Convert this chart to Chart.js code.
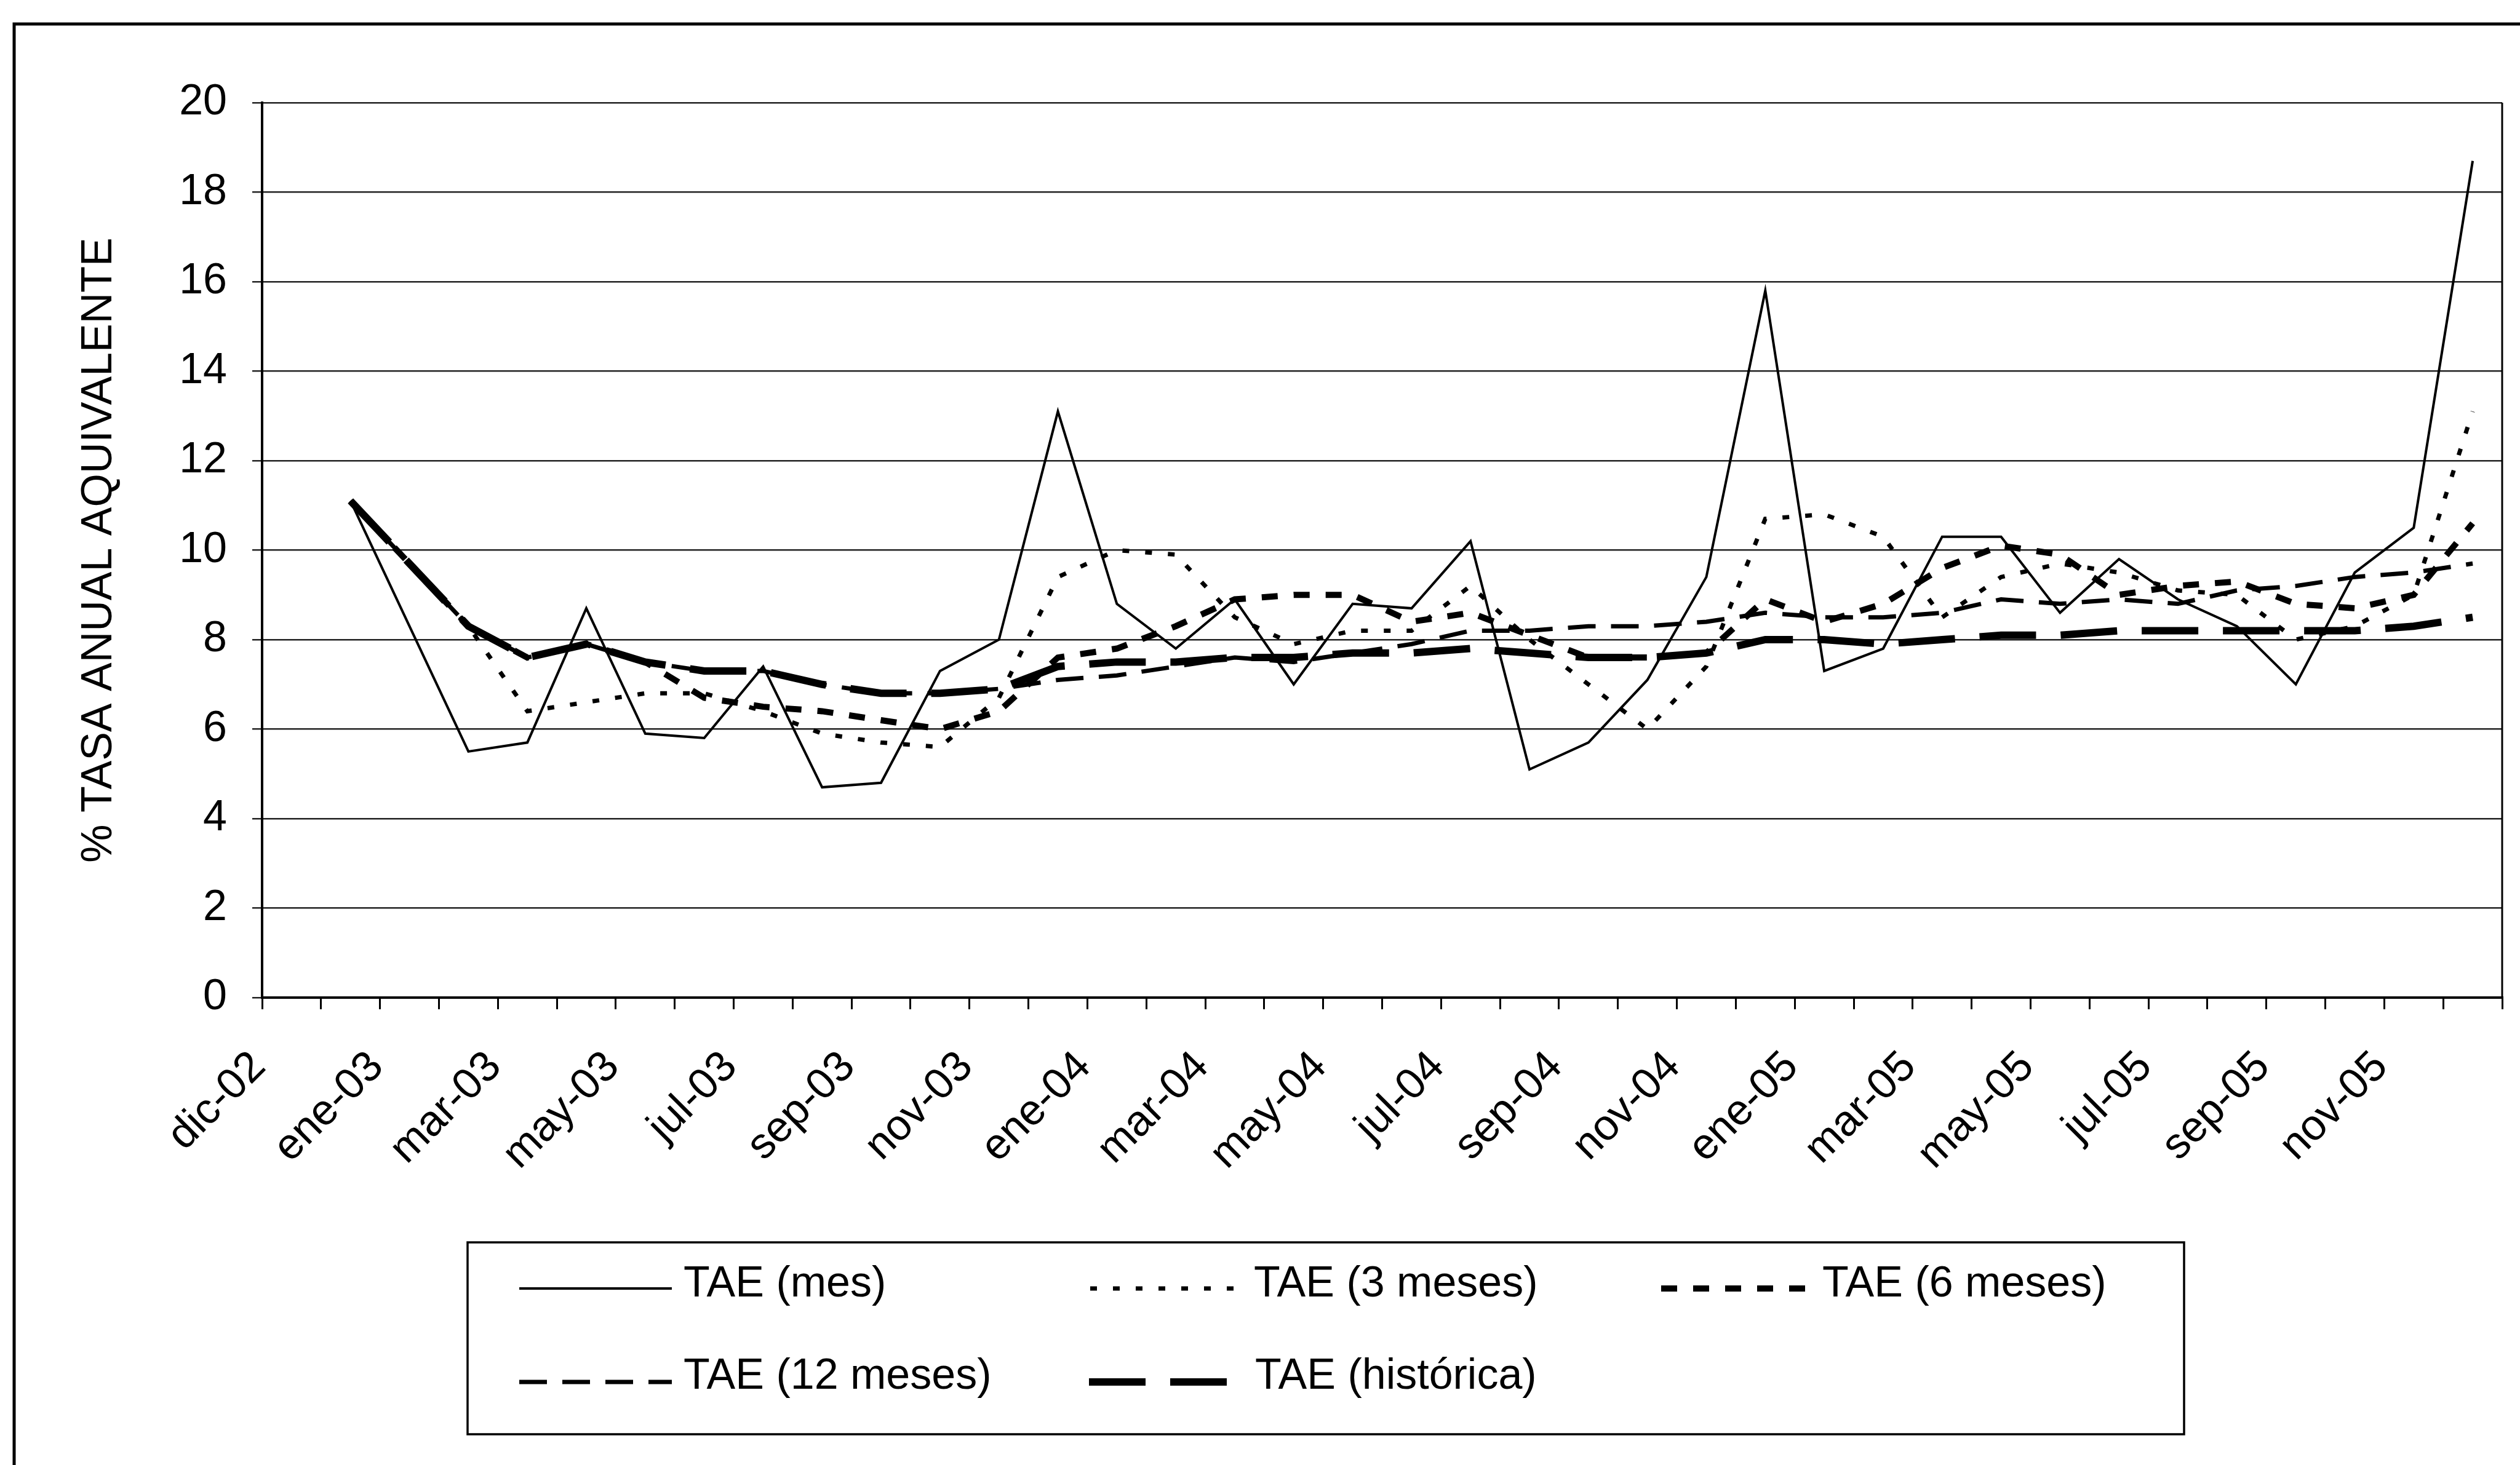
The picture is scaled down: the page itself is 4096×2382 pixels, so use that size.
<!DOCTYPE html>
<html>
<head>
<meta charset="utf-8">
<script src="https://cdn.jsdelivr.net/npm/chart.js@4.4.1/dist/chart.umd.min.js"></script>
<style>
  html, body { margin: 0; padding: 0; background: #ffffff; }
  #wrap { width: 4096px; height: 2382px; }
</style>
</head>
<body>
<div id="wrap"><canvas id="c" width="4096" height="2382"></canvas></div>
<script>
// ---------- data ----------
const categories = ['dic-02','dic-02','ene-03','feb-03','mar-03','abr-03','may-03','jun-03','jul-03','ago-03','sep-03','oct-03','nov-03','dic-03',
  'ene-04','feb-04','mar-04','abr-04','may-04','jun-04','jul-04','ago-04','sep-04','oct-04','nov-04','dic-04',
  'ene-05','feb-05','mar-05','abr-05','may-05','jun-05','jul-05','ago-05','sep-05','oct-05','nov-05','dic-05'];

const taeMes  = [null, 11.1, 8.3, 5.5, 5.7, 8.7, 5.9, 5.8, 7.4, 4.7, 4.8, 7.3, 8.0, 13.1, 8.8, 7.8, 8.9, 7.0, 8.8, 8.7, 10.2, 5.1, 5.7, 7.1, 9.4, 15.8, 7.3, 7.8, 10.3, 10.3, 8.6, 9.8, 8.9, 8.3, 7.0, 9.5, 10.5, 18.7];
const tae3    = [null, 11.1, 9.7, 8.3, 6.4, 6.6, 6.8, 6.8, 6.4, 5.9, 5.7, 5.6, 6.7, 9.4, 10.0, 9.9, 8.5, 7.9, 8.2, 8.2, 9.2, 8.0, 7.0, 6.0, 7.4, 10.7, 10.8, 10.3, 8.5, 9.4, 9.7, 9.5, 9.1, 9.0, 8.0, 8.3, 9.0, 13.1];
const tae6    = [null, 11.1, 9.7, 8.3, 7.6, 7.9, 7.5, 6.7, 6.5, 6.4, 6.2, 6.0, 6.4, 7.6, 7.8, 8.3, 8.9, 9.0, 9.0, 8.4, 8.6, 8.1, 7.6, 7.6, 7.7, 8.9, 8.4, 8.8, 9.6, 10.1, 9.9, 9.0, 9.2, 9.3, 8.8, 8.7, 9.0, 10.6];
const tae12   = [null, 11.1, 9.7, 8.3, 7.6, 7.9, 7.5, 7.3, 7.3, 7.0, 6.8, 6.8, 6.9, 7.1, 7.2, 7.4, 7.6, 7.5, 7.7, 7.9, 8.2, 8.2, 8.3, 8.3, 8.4, 8.6, 8.5, 8.5, 8.6, 8.9, 8.8, 8.9, 8.8, 9.1, 9.2, 9.4, 9.5, 9.7];
const taeHist = [null, 11.1, 9.7, 8.3, 7.6, 7.9, 7.5, 7.3, 7.3, 7.0, 6.8, 6.8, 6.9, 7.4, 7.5, 7.5, 7.6, 7.6, 7.7, 7.7, 7.8, 7.7, 7.6, 7.6, 7.7, 8.0, 8.0, 7.9, 8.0, 8.1, 8.1, 8.2, 8.2, 8.2, 8.2, 8.2, 8.3, 8.5];

const seriesNames = ['TAE (mes)', 'TAE (3 meses)', 'TAE (6 meses)', 'TAE (12 meses)', 'TAE (histórica)'];
const yAxisTitle = '% TASA ANUAL AQUIVALENTE';
const yMin = 0, yMax = 20, yStep = 2;
const labelEvery = 2;   // one category label out of two is shown

// ---------- styling ----------
const FONT = "'Liberation Sans', Arial, Helvetica, sans-serif";
const FS = 70;
Chart.defaults.font.family = FONT;
Chart.defaults.font.size = FS;
Chart.defaults.color = '#000';

const framePlugin = {
  id: 'frame',
  afterDraw(chart) {
    const ctx = chart.ctx;
    const a = chart.chartArea;
    ctx.save();
    ctx.strokeStyle = '#000';
    ctx.setLineDash([]);
    // right border of plot area
    ctx.lineWidth = 3;
    ctx.beginPath();
    ctx.moveTo(a.right, a.top);
    ctx.lineTo(a.right, a.bottom);
    ctx.stroke();
    // outer chart frame (left and top edges visible)
    ctx.lineWidth = 5;
    ctx.beginPath();
    ctx.moveTo(23, 2382);
    ctx.lineTo(23, 39);
    ctx.lineTo(4096, 39);
    ctx.stroke();
    // legend box
    ctx.lineWidth = 3.5;
    ctx.strokeRect(760, 2020, 3550 - 760, 2332 - 2020);
    const cells = [
      { x0: 844,  x1: 1092, tx: 1111, ly: 2095, ty: 2089 },
      { x0: 1772, x1: 2014, tx: 2038, ly: 2095, ty: 2089 },
      { x0: 2700, x1: 2948, tx: 2962, ly: 2095, ty: 2089 },
      { x0: 844,  x1: 1092, tx: 1111, ly: 2247, ty: 2239 },
      { x0: 1770, x1: 2008, tx: 2040, ly: 2247, ty: 2239 }
    ];
    chart.data.datasets.forEach((ds, i) => {
      const c = cells[i];
      ctx.strokeStyle = ds.borderColor;
      ctx.lineWidth = ds.borderWidth;
      ctx.setLineDash(ds.borderDash || []);
      ctx.lineCap = 'butt';
      ctx.beginPath();
      ctx.moveTo(c.x0, c.ly);
      ctx.lineTo(c.x1, c.ly);
      ctx.stroke();
      ctx.setLineDash([]);
      ctx.fillStyle = '#000';
      ctx.font = FS + 'px ' + FONT;
      ctx.textAlign = 'left';
      ctx.textBaseline = 'middle';
      ctx.fillText(ds.label, c.tx, c.ty);
    });
    ctx.restore();
  }
};

const ctx = document.getElementById('c').getContext('2d');
new Chart(ctx, {
  type: 'line',
  data: {
    labels: categories,
    datasets: [
      { label: seriesNames[0], data: taeMes,  borderColor: '#000', borderWidth: 4,  borderDash: [] },
      { label: seriesNames[1], data: tae3,    borderColor: '#000', borderWidth: 7,  borderDash: [11, 26] },
      { label: seriesNames[2], data: tae6,    borderColor: '#000', borderWidth: 10, borderDash: [26, 26] },
      { label: seriesNames[3], data: tae12,   borderColor: '#000', borderWidth: 7,  borderDash: [45, 25] },
      { label: seriesNames[4], data: taeHist, borderColor: '#000', borderWidth: 12, borderDash: [92, 40] }
    ]
  },
  options: {
    responsive: false,
    animation: false,
    devicePixelRatio: 1,
    layout: { padding: { left: 120, top: 167, right: 29, bottom: 460 } },
    elements: {
      point: { radius: 0, hoverRadius: 0 },
      line: { tension: 0, fill: false, borderCapStyle: 'butt', borderJoinStyle: 'miter' }
    },
    plugins: { legend: { display: false }, tooltip: { enabled: false }, title: { display: false } },
    scales: {
      x: {
        type: 'category',
        offset: true,
        grid: { offset: true, drawOnChartArea: false, drawTicks: true, tickLength: 19, color: '#000', lineWidth: 3 },
        border: { display: true, color: '#000', width: 4 },
        ticks: {
          autoSkip: false, maxRotation: 45, minRotation: 45, padding: 53, labelOffset: -53,
          color: '#000', font: { size: FS },
          callback: (v, i) => (i % labelEvery === 0 ? categories[i] : '')
        },
        afterFit(s) { s.height = 300; s.paddingLeft = 0; s.paddingRight = 0; }
      },
      y: {
        min: yMin, max: yMax,
        ticks: { stepSize: yStep, padding: 41, color: '#000', font: { size: FS } },
        grid: { color: '#222', lineWidth: 2.5, tickLength: 16, drawTicks: true },
        border: { display: true, color: '#000', width: 4 },
        title: { display: true, text: yAxisTitle, color: '#000', font: { size: FS }, padding: 0 },
        afterFit(s) { s.width = 306; }
      }
    }
  },
  plugins: [framePlugin]
});
</script>
</body>
</html>
